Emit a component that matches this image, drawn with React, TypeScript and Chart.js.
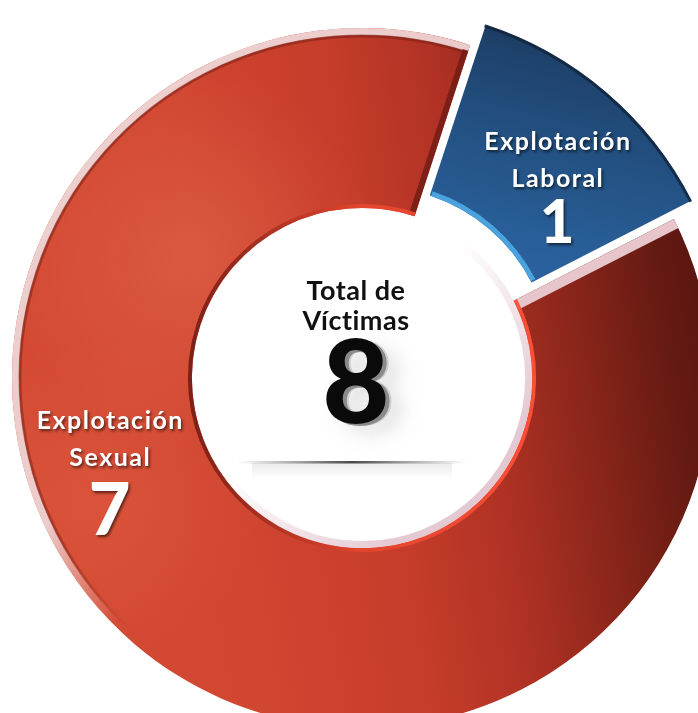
import React, { useEffect, useRef } from 'react';
import { Chart, registerables } from 'chart.js';

Chart.register(...registerables);

// ---- data ----
const categories = ['Explotación Sexual', 'Explotación Laboral'];
const labelTitles = [
  ['Explotación', 'Sexual'],
  ['Explotación', 'Laboral'],
];
const values = [7, 1];
const centerTitle = ['Total de', 'Víctimas'];

// ---- style ----
const FONT = 'Lato, "Open Sans", sans-serif';
const OFFSETS = [0, 80];
const LABEL_STYLE = [
  { angle: 251, dist: 267, titleSize: 25, numSize: 72, base: [-36, 1, 70] },
  { angle: 45, dist: 276, titleSize: 25, numSize: 60, base: [-33, 4, 60] },
];

function redFill(ctx: any) {
  const chart = ctx.chart;
  const a = chart.chartArea;
  if (!a) return '#c63c2a';
  const g = chart.ctx.createLinearGradient(a.left, a.top + a.height * 0.55, a.right, a.top + a.height * 0.4);
  g.addColorStop(0, '#d44b33');
  g.addColorStop(0.3, '#d04631');
  g.addColorStop(0.52, '#c53c2a');
  g.addColorStop(0.66, '#b03224');
  g.addColorStop(0.8, '#88251a');
  g.addColorStop(0.92, '#641a12');
  g.addColorStop(1, '#571510');
  return g;
}

function blueFill(ctx: any) {
  const chart = ctx.chart;
  const a = chart.chartArea;
  if (!a) return '#23507e';
  const cx = (a.left + a.right) / 2;
  const cy = (a.top + a.bottom) / 2;
  const g = chart.ctx.createLinearGradient(cx + 130, cy - 110, cx + 190, cy - 350);
  g.addColorStop(0, '#2a619c');
  g.addColorStop(0.45, '#235183');
  g.addColorStop(0.8, '#1e426b');
  g.addColorStop(1, '#182f4d');
  return g;
}

const decoPlugin = {
  id: 'deco',
  afterDatasetsDraw(chart: any) {
    const ctx: CanvasRenderingContext2D = chart.ctx;
    const meta = chart.getDatasetMeta(0);
    const red: any = meta.data[0];
    const blue: any = meta.data[1];
    if (!red || !blue) return;
    const cx = red.x;
    const cy = red.y;
    const R = red.outerRadius;
    const r = red.innerRadius;
    ctx.save();

    // soft highlight on red ring (upper left)
    ctx.save();
    ctx.beginPath();
    ctx.arc(cx, cy, R, red.startAngle, red.endAngle);
    ctx.arc(cx, cy, r, red.endAngle, red.startAngle, true);
    ctx.closePath();
    ctx.clip();
    let hg = ctx.createRadialGradient(cx - 170, cy - 120, 10, cx - 170, cy - 120, 190);
    hg.addColorStop(0, 'rgba(240,120,90,0.35)');
    hg.addColorStop(1, 'rgba(240,120,90,0)');
    ctx.fillStyle = hg;
    ctx.fillRect(cx - R, cy - R, 2 * R, 2 * R);
    hg = ctx.createRadialGradient(cx - 260, cy + 120, 10, cx - 260, cy + 120, 160);
    hg.addColorStop(0, 'rgba(240,110,80,0.25)');
    hg.addColorStop(1, 'rgba(240,110,80,0)');
    ctx.fillStyle = hg;
    ctx.fillRect(cx - R, cy - R, 2 * R, 2 * R);
    ctx.restore();

    // pale rim on outer edge of red ring (top-left)
    let g = ctx.createLinearGradient(cx - R, cy - R, cx + R, cy + R);
    g.addColorStop(0, 'rgba(238,210,210,1)');
    g.addColorStop(0.38, 'rgba(238,210,210,0.95)');
    g.addColorStop(0.5, 'rgba(238,210,210,0)');
    g.addColorStop(1, 'rgba(238,210,210,0)');
    ctx.strokeStyle = g;
    ctx.lineWidth = 7;
    ctx.beginPath();
    ctx.arc(cx, cy, R - 3.5, red.startAngle, red.endAngle);
    ctx.stroke();
    // dark shadow just inside rim
    g = ctx.createLinearGradient(cx - R, cy - R, cx + R, cy + R);
    g.addColorStop(0, 'rgba(110,25,18,0.5)');
    g.addColorStop(0.4, 'rgba(110,25,18,0.45)');
    g.addColorStop(0.52, 'rgba(110,25,18,0)');
    ctx.strokeStyle = g;
    ctx.lineWidth = 3;
    ctx.beginPath();
    ctx.arc(cx, cy, R - 8, red.startAngle, red.endAngle);
    ctx.stroke();

    // bevel along red end edge (dark)
    const e = red.endAngle;
    ctx.strokeStyle = 'rgba(115,28,20,0.85)';
    ctx.lineWidth = 6;
    ctx.beginPath();
    ctx.moveTo(cx + r * Math.cos(e) + 3 * Math.sin(e), cy + r * Math.sin(e) - 3 * Math.cos(e));
    ctx.lineTo(cx + (R - 6) * Math.cos(e) + 3 * Math.sin(e), cy + (R - 6) * Math.sin(e) - 3 * Math.cos(e));
    ctx.stroke();

    // pale bevel along red start edge
    const s = red.startAngle;
    ctx.strokeStyle = '#e6c6ca';
    ctx.lineWidth = 10;
    ctx.beginPath();
    ctx.moveTo(cx + r * Math.cos(s) - 5 * Math.sin(s), cy + r * Math.sin(s) + 5 * Math.cos(s));
    ctx.lineTo(cx + R * Math.cos(s) - 5 * Math.sin(s), cy + R * Math.sin(s) + 5 * Math.cos(s));
    ctx.stroke();

    // inner red edge line
    g = ctx.createLinearGradient(cx - r, cy, cx + r, cy);
    g.addColorStop(0, 'rgba(115,28,20,0.9)');
    g.addColorStop(0.5, 'rgba(230,70,45,0.9)');
    g.addColorStop(1, 'rgba(255,80,55,0.95)');
    ctx.strokeStyle = g;
    ctx.lineWidth = 4;
    ctx.beginPath();
    ctx.arc(cx, cy, r + 2, red.startAngle, red.endAngle);
    ctx.stroke();

    // pale rim inside the hole (bottom-right)
    g = ctx.createLinearGradient(cx - r, cy - r, cx + r, cy + r);
    g.addColorStop(0, 'rgba(228,200,210,0)');
    g.addColorStop(0.45, 'rgba(228,200,210,0)');
    g.addColorStop(0.8, 'rgba(228,200,210,1)');
    g.addColorStop(1, 'rgba(228,200,210,1)');
    ctx.strokeStyle = g;
    ctx.lineWidth = 7;
    ctx.beginPath();
    ctx.arc(cx, cy, r - 3.5, 0, Math.PI * 2);
    ctx.stroke();

    // blue segment edges
    const off = (blue.options.offset || 0) / 4;
    const half = (blue.startAngle + blue.endAngle) / 2;
    const circ = blue.endAngle - blue.startAngle;
    const ro = off * (1 - Math.sin(Math.min(Math.PI, circ)));
    const bx = cx + Math.cos(half) * off;
    const by = cy + Math.sin(half) * off;
    ctx.strokeStyle = '#4aa2de';
    ctx.lineWidth = 5;
    ctx.beginPath();
    ctx.arc(bx, by, blue.innerRadius + ro + 2.5, blue.startAngle + 0.01, blue.endAngle - 0.01);
    ctx.stroke();
    ctx.strokeStyle = 'rgba(16,34,56,0.75)';
    ctx.lineWidth = 3;
    ctx.beginPath();
    ctx.arc(bx, by, blue.outerRadius + ro - 1.5, blue.startAngle, blue.endAngle);
    ctx.stroke();

    ctx.restore();
  },
  afterDraw(chart: any) {
    const ctx: any = chart.ctx;
    const meta = chart.getDatasetMeta(0);
    const first: any = meta.data[0];
    if (!first) return;
    const cx = first.x;
    const cy = first.y;
    const data: number[] = chart.data.datasets[0].data;
    const total = data.reduce((p, v) => p + v, 0);
    ctx.save();
    ctx.textAlign = 'center';
    ctx.textBaseline = 'alphabetic';

    // center block
    const tx = cx - 6;
    const lg = ctx.createLinearGradient(cx - 125, 0, cx + 105, 0);
    lg.addColorStop(0, 'rgba(60,60,60,0)');
    lg.addColorStop(0.5, 'rgba(40,40,40,0.85)');
    lg.addColorStop(1, 'rgba(60,60,60,0)');
    ctx.fillStyle = lg;
    ctx.fillRect(cx - 125, cy + 83, 230, 2.5);
    const sg = ctx.createLinearGradient(0, cy + 85, 0, cy + 100);
    sg.addColorStop(0, 'rgba(0,0,0,0.08)');
    sg.addColorStop(1, 'rgba(0,0,0,0)');
    ctx.fillStyle = sg;
    ctx.fillRect(cx - 110, cy + 85, 200, 15);

    ctx.fillStyle = '#111';
    ctx.letterSpacing = '0.5px';
    ctx.font = `700 27px ${FONT}`;
    ctx.fillText(centerTitle[0], tx, cy - 78);
    ctx.fillText(centerTitle[1], tx, cy - 48);
    ctx.letterSpacing = '0px';

    ctx.font = `900 116px ${FONT}`;
    ctx.save();
    ctx.shadowColor = 'rgba(0,0,0,0.35)';
    ctx.shadowBlur = 18;
    ctx.shadowOffsetX = 10;
    ctx.shadowOffsetY = 8;
    ctx.fillStyle = 'rgba(150,150,150,0.35)';
    ctx.fillText(String(total), tx + 6, cy + 47);
    ctx.restore();
    ctx.fillStyle = '#8a8a8a';
    ctx.fillText(String(total), tx + 4, cy + 47);
    ctx.fillStyle = '#0a0a0a';
    ctx.fillText(String(total), tx, cy + 45);

    // segment labels
    ctx.fillStyle = '#ffffff';
    ctx.shadowColor = 'rgba(0,0,0,0.6)';
    ctx.shadowBlur = 3;
    ctx.shadowOffsetX = 1.5;
    ctx.shadowOffsetY = 2;
    for (let i = 0; i < data.length; i++) {
      const st = LABEL_STYLE[i];
      const a = (st.angle * Math.PI) / 180;
      const lx = cx + st.dist * Math.sin(a);
      const ly = cy - st.dist * Math.cos(a);
      ctx.font = `700 ${st.titleSize}px ${FONT}`;
      ctx.letterSpacing = '1.5px';
      ctx.fillText(labelTitles[i][0], lx + 0.75, ly + st.base[0]);
      ctx.fillText(labelTitles[i][1], lx + 0.75, ly + st.base[1]);
      ctx.letterSpacing = '0px';
      ctx.font = `900 ${st.numSize}px ${FONT}`;
      ctx.fillText(String(data[i]), lx, ly + st.base[2]);
    }
    ctx.restore();
  },
};

export default function App() {
  const canvasRef = useRef<HTMLCanvasElement | null>(null);

  useEffect(() => {
    if (!canvasRef.current) return;
    const chart = new Chart(canvasRef.current, {
      type: 'doughnut',
      data: {
        labels: categories,
        datasets: [
          {
            data: values,
            backgroundColor: (ctx: any) => (ctx.dataIndex === 0 ? redFill(ctx) : blueFill(ctx)),
            borderWidth: 0,
            offset: OFFSETS,
            hoverOffset: 0,
          } as any,
        ],
      },
      options: {
        animation: false,
        responsive: true,
        maintainAspectRatio: false,
        rotation: 63,
        cutout: '48.6%',
        radius: 350,
        events: [],
        layout: { padding: 0 },
        plugins: {
          legend: { display: false },
          tooltip: { enabled: false },
        },
      } as any,
      plugins: [decoPlugin],
    });
    return () => chart.destroy();
  }, []);

  return (
    <div
      style={{
        position: 'fixed',
        left: 0,
        top: 0,
        width: 698,
        height: 713,
        overflow: 'hidden',
        background: '#ffffff',
      }}
    >
      <div style={{ position: 'absolute', left: 0, top: 0, width: 724, height: 756 }}>
        <canvas ref={canvasRef} />
      </div>
    </div>
  );
}
